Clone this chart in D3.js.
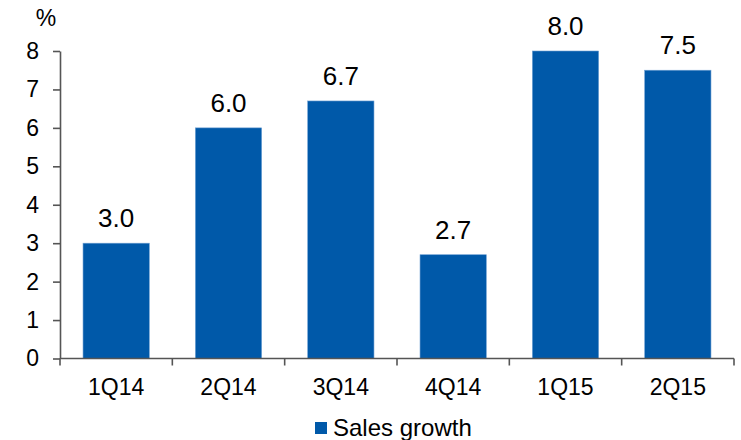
<!DOCTYPE html>
<html>
<head>
<meta charset="utf-8">
<script src="https://cdn.jsdelivr.net/npm/d3@7/dist/d3.min.js"></script>
<style>
  html, body { margin: 0; padding: 0; background: #fff; }
  svg { display: block; font-family: "Liberation Sans", Arial, sans-serif; }
</style>
</head>
<body>
<svg id="chart" width="741" height="440"></svg>
<script>
// Quarterly sales growth, %
const categories = ["1Q14", "2Q14", "3Q14", "4Q14", "1Q15", "2Q15"];
const salesGrowth = [3.0, 6.0, 6.7, 2.7, 8.0, 7.5];
const yTicks = [0, 1, 2, 3, 4, 5, 6, 7, 8];
const seriesName = "Sales growth";
const unitLabel = "%";

const svg = d3.select("#chart");
const barColor = "#0059A9";
const axisColor = "#555";
const axisFont = 23;
const valueFont = 26;
const legendFont = 24;

const x = d3.scaleBand()
  .domain(categories)
  .range([60, 734])
  .paddingInner(0.41)
  .paddingOuter(0.205);

const y = d3.scaleLinear()
  .domain([0, 8])
  .range([358.5, 51]);

// Bars
svg.append("g")
  .selectAll("rect")
  .data(salesGrowth)
  .join("rect")
  .attr("x", (d, i) => x(categories[i]))
  .attr("y", d => y(d))
  .attr("width", x.bandwidth())
  .attr("height", d => y(0) - y(d))
  .attr("fill", barColor)
  .attr("stroke", "#6d9fd2")
  .attr("stroke-width", 0.6);

// Value labels
svg.append("g")
  .selectAll("text")
  .data(salesGrowth)
  .join("text")
  .attr("x", (d, i) => x(categories[i]) + x.bandwidth() / 2)
  .attr("y", d => y(d) - 16)
  .attr("text-anchor", "middle")
  .attr("font-size", valueFont)
  .attr("fill", "#000")
  .text(d => d.toFixed(1));

// Y axis
const yAxis = svg.append("g")
  .attr("transform", "translate(60,0)")
  .call(d3.axisLeft(y).tickValues(yTicks).tickFormat(d3.format("d")).tickSize(7).tickSizeOuter(0).tickPadding(14));
yAxis.select(".domain").attr("stroke", axisColor).attr("stroke-width", 1.6);
yAxis.selectAll(".tick line").attr("stroke", axisColor).attr("stroke-width", 1.6);
yAxis.selectAll(".tick text")
  .attr("font-size", axisFont)
  .attr("font-family", "Liberation Sans, Arial, sans-serif")
  .attr("fill", "#000");

// X axis: ticks sit on the band boundaries
const xAxisG = svg.append("g").attr("transform", `translate(0,${y(0)})`);
xAxisG.append("line")
  .attr("x1", 60).attr("x2", 734)
  .attr("stroke", axisColor).attr("stroke-width", 1.6);
const boundaries = categories.map((c, i) => 60 + i * x.step());
boundaries.push(734);
xAxisG.selectAll("line.tick")
  .data(boundaries)
  .join("line")
  .attr("class", "tick")
  .attr("x1", d => d).attr("x2", d => d)
  .attr("y1", 0).attr("y2", 7)
  .attr("stroke", axisColor).attr("stroke-width", 1.6);
xAxisG.selectAll("text")
  .data(categories)
  .join("text")
  .attr("x", d => x(d) + x.bandwidth() / 2)
  .attr("y", 36)
  .attr("text-anchor", "middle")
  .attr("font-size", axisFont)
  .attr("fill", "#000")
  .text(d => d);

// Unit label
svg.append("text")
  .attr("x", 46).attr("y", 26)
  .attr("text-anchor", "middle")
  .attr("font-size", axisFont)
  .attr("fill", "#000")
  .text(unitLabel);

// Legend
const legend = svg.append("g").attr("transform", "translate(315,422)");
legend.append("rect")
  .attr("width", 12).attr("height", 12)
  .attr("fill", barColor);
legend.append("text")
  .attr("x", 18).attr("y", 13.7)
  .attr("font-size", legendFont)
  .attr("fill", "#000")
  .text(seriesName);
</script>
</body>
</html>
